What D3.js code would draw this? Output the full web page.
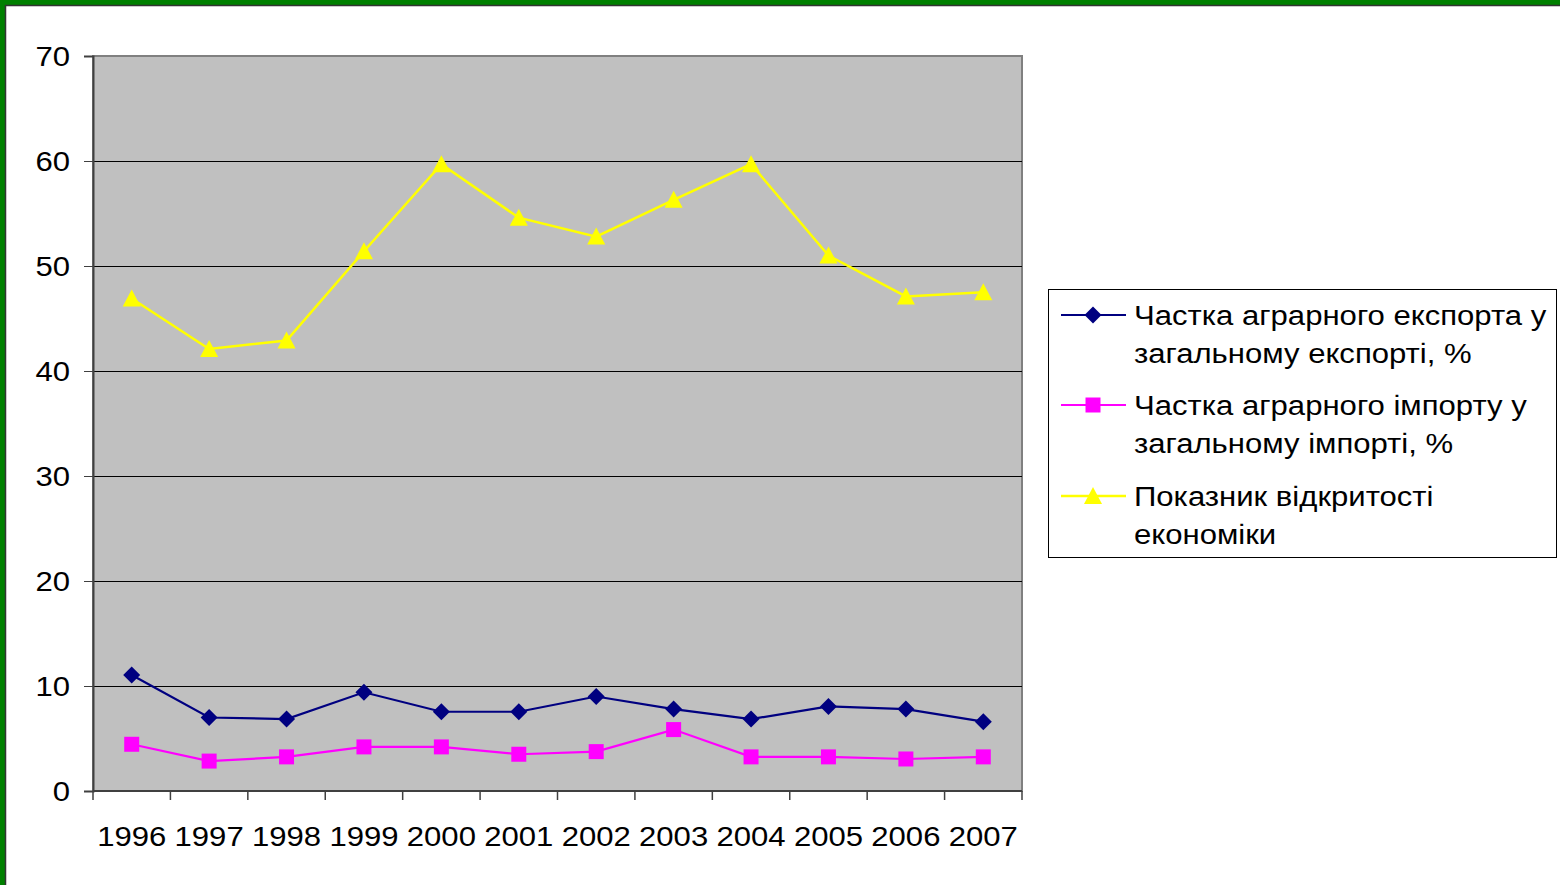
<!DOCTYPE html>
<html>
<head>
<meta charset="utf-8">
<script src="https://cdn.jsdelivr.net/npm/d3@7"></script>
<style>
  html, body { margin: 0; padding: 0; background: #fff; }
  svg { display: block; font-family: Arial, "Liberation Sans", sans-serif; }
</style>
</head>
<body>
<div id="chart"></div>
<script>
// categories and series
var years = ['1996', '1997', '1998', '1999', '2000', '2001', '2002', '2003', '2004', '2005', '2006', '2007'];
var exportShare = [11.05, 7.0, 6.85, 9.4, 7.55, 7.55, 9.0, 7.8, 6.85, 8.05, 7.8, 6.6];
var importShare = [4.45, 2.85, 3.25, 4.2, 4.2, 3.5, 3.75, 5.85, 3.25, 3.25, 3.05, 3.25];
var openness = [46.9, 42.1, 42.9, 51.4, 59.7, 54.6, 52.8, 56.3, 59.7, 51.0, 47.1, 47.5];
var yTicks = [0, 10, 20, 30, 40, 50, 60, 70];
var seriesNames = [
  ['Частка аграрного експорта у', 'загальному експорті, %'],
  ['Частка аграрного імпорту у', 'загальному імпорті, %'],
  ['Показник відкритості', 'економіки']
];

var width = 1560;
var height = 885;
var plot = { left: 93, top: 56, right: 1022, bottom: 791 };
var stretch = 1.11; // text in the picture is a bit wider than Arial

// marker shapes (Excel style)
var markers = {
  diamond: 'M0,-8.5L8.5,0L0,8.5L-8.5,0Z',
  square: 'M-7.5,-7.5H7.5V7.5H-7.5Z',
  triangle: 'M0,-9L9,8H-9Z'
};

var series = [
  { values: exportShare, color: '#000080', marker: markers.diamond, width: 2.2, name: seriesNames[0] },
  { values: importShare, color: '#ff00ff', marker: markers.square, width: 2.2, name: seriesNames[1] },
  { values: openness, color: '#ffff00', marker: markers.triangle, width: 2.5, name: seriesNames[2] }
];

var svg = d3.select('#chart').append('svg')
  .attr('width', width)
  .attr('height', height);

svg.append('rect')
  .attr('width', width).attr('height', height)
  .style('fill', '#fff');

// green slide frame (top and left only visible)
svg.append('rect').attr('x', 0).attr('y', 0).attr('width', width).attr('height', 5).style('fill', '#008000');
svg.append('rect').attr('x', 0).attr('y', 0).attr('width', 5).attr('height', height).style('fill', '#008000');
svg.append('line').attr('x1', 5).attr('x2', width).attr('y1', 5.5).attr('y2', 5.5).style('stroke', '#333').style('stroke-width', 1.5);
svg.append('line').attr('x1', 5.5).attr('x2', 5.5).attr('y1', 5).attr('y2', height).style('stroke', '#333').style('stroke-width', 1.5);

var x = d3.scaleBand()
  .domain(years)
  .range([plot.left, plot.right]);

var y = d3.scaleLinear()
  .domain([0, 70])
  .range([plot.bottom, plot.top]);

function addText(sel, tx, ty, anchor, str) {
  return sel.append('text')
    .attr('transform', 'translate(' + tx + ',' + ty + ') scale(' + stretch + ',1)')
    .attr('text-anchor', anchor)
    .style('font-size', '28px')
    .style('fill', '#000')
    .text(str);
}

// plot area
svg.append('rect')
  .attr('x', plot.left).attr('y', plot.top)
  .attr('width', plot.right - plot.left).attr('height', plot.bottom - plot.top)
  .style('fill', '#c0c0c0')
  .style('stroke', '#808080')
  .style('stroke-width', 2);

// gridlines
svg.append('g').selectAll('line')
  .data(yTicks.filter(function (d) { return d > 0 && d < 70; }))
  .enter().append('line')
  .attr('x1', plot.left).attr('x2', plot.right)
  .attr('y1', function (d) { return y(d) + 0.5; })
  .attr('y2', function (d) { return y(d) + 0.5; })
  .style('stroke', '#000')
  .style('stroke-width', 1);

// y axis
var yAxis = svg.append('g')
  .attr('transform', 'translate(' + plot.left + ',0)')
  .call(d3.axisLeft(y).tickValues(yTicks).tickSize(9).tickFormat(''));
yAxis.select('.domain').style('stroke', '#404040').style('stroke-width', 2);
yAxis.selectAll('.tick line').style('stroke', '#404040');
var yLabels = svg.append('g');
yTicks.forEach(function (t) {
  addText(yLabels, 70, y(t) + 10, 'end', t);
});

// x axis: ticks at band boundaries
var xAxisG = svg.append('g');
xAxisG.append('line')
  .attr('x1', plot.left).attr('x2', plot.right)
  .attr('y1', plot.bottom).attr('y2', plot.bottom)
  .style('stroke', '#404040').style('stroke-width', 2);
var boundaries = years.map(function (d) { return x(d); }).concat([plot.right]);
xAxisG.selectAll('.xtick')
  .data(boundaries)
  .enter().append('line')
  .attr('class', 'xtick')
  .attr('x1', function (d) { return d; }).attr('x2', function (d) { return d; })
  .attr('y1', plot.bottom).attr('y2', plot.bottom + 9)
  .style('stroke', '#404040').style('stroke-width', 1.5);
years.forEach(function (yr) {
  addText(xAxisG, x(yr) + x.bandwidth() / 2, 846, 'middle', yr);
});

// lines and markers
var line = d3.line()
  .x(function (d, i) { return x(years[i]) + x.bandwidth() / 2; })
  .y(function (d) { return y(d); });

series.forEach(function (s) {
  var g = svg.append('g');
  g.append('path')
    .datum(s.values)
    .attr('d', line)
    .style('fill', 'none')
    .style('stroke', s.color)
    .style('stroke-width', s.width);
  g.selectAll('path.mark')
    .data(s.values)
    .enter().append('path')
    .attr('class', 'mark')
    .attr('d', s.marker)
    .attr('transform', function (d, i) {
      return 'translate(' + (x(years[i]) + x.bandwidth() / 2) + ',' + y(d) + ')';
    })
    .style('fill', s.color);
});

// legend
var legend = svg.append('g');
legend.append('rect')
  .attr('x', 1048.5).attr('y', 289.5)
  .attr('width', 508).attr('height', 268)
  .style('fill', '#fff')
  .style('stroke', '#000')
  .style('stroke-width', 1);

var rowY = [315, 405, 496];
series.forEach(function (s, i) {
  var row = legend.append('g').attr('transform', 'translate(0,' + rowY[i] + ')');
  row.append('line')
    .attr('x1', 1061).attr('x2', 1126)
    .attr('y1', 0).attr('y2', 0)
    .style('stroke', s.color).style('stroke-width', s.width);
  row.append('path')
    .attr('d', s.marker)
    .attr('transform', 'translate(1093,0)')
    .style('fill', s.color);
  addText(row, 1134, 10, 'start', s.name[0]);
  addText(row, 1134, 48, 'start', s.name[1]);
});
</script>
</body>
</html>
